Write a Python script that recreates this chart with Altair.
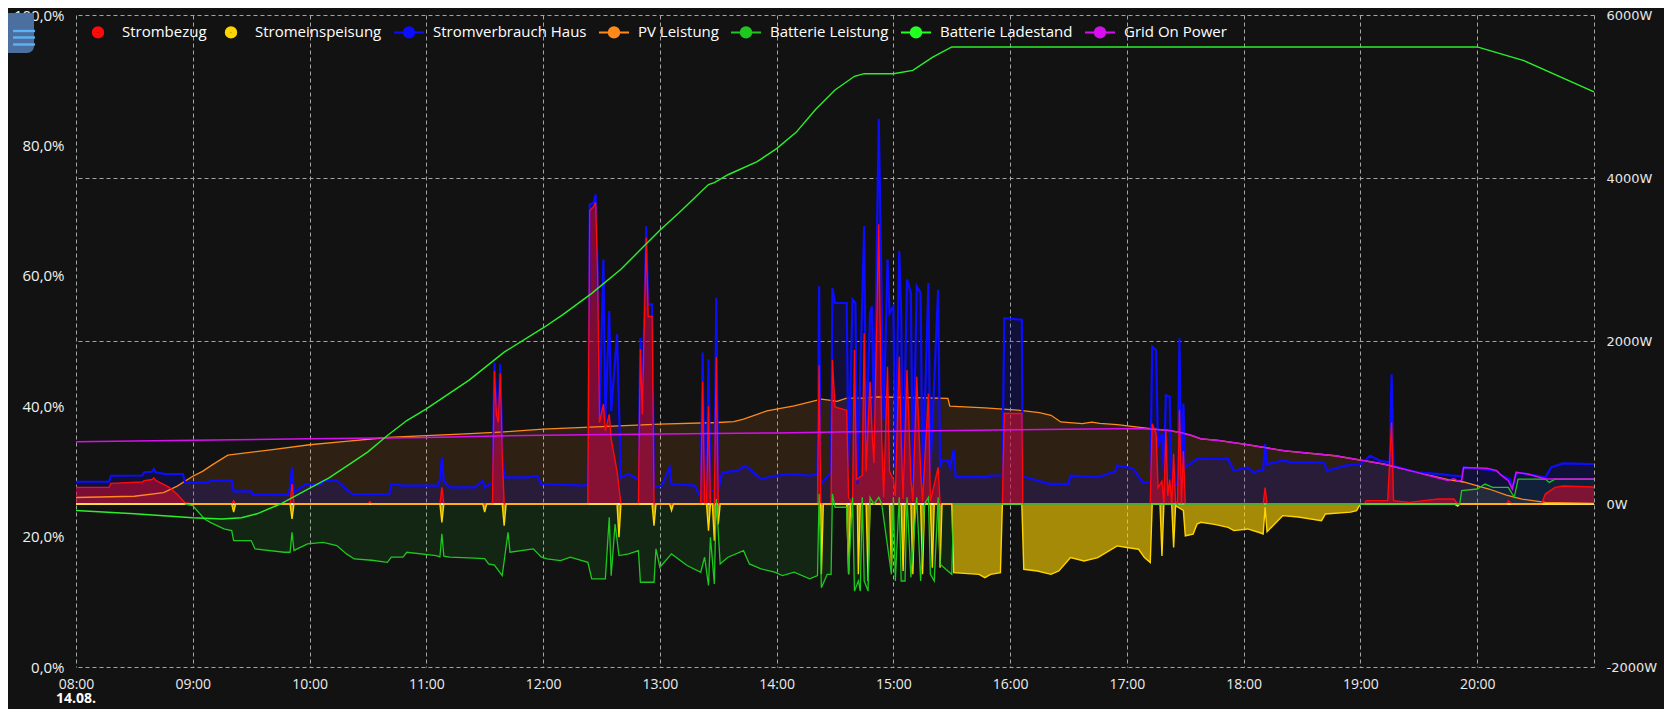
import altair as alt
import pandas as pd

DAY = "2024-08-14T"

SERIES = ["Strombezug", "Stromeinspeisung", "Stromverbrauch Haus", "PV Leistung",
          "Batterie Leistung", "Batterie Ladestand", "Grid On Power"]
COLORS = ["#ff0a0a", "#ffd500", "#0c0cff", "#ff8a1a", "#1ec81e", "#22ff22", "#d90ef0"]

# Stromverbrauch Haus (W)
HAUS = [("08:00",273),("08:17",273),("08:18",347),("08:34",350),("08:35",388),("08:39",395),("08:40",430),("08:41",390),
        ("08:46",367),("08:55",367),("08:56",265),("09:08",265),("09:09",286),("09:20",286),("09:21",155),("09:30",155),
        ("09:31",114),("09:49",114),("09:50",200),("09:51",450),("09:52",140),("09:58",245),("10:06",245),("10:07",286),
        ("10:14",286),("10:18",200),("10:22",122),("10:41",122),("10:42",245),("10:48",225),("11:06",225),("11:07",300),
        ("11:08",571),("11:09",280),("11:12",204),("11:25",204),("11:29",286),("11:30",204),("11:34",260),("11:35",1735),
        ("11:36",1200),("11:37",1000),("11:38",1715),("11:39",700),("11:40",327),("11:52",327),("11:57",347),("11:59",245),
        ("12:21",225),("12:23",250),("12:24",3675),("12:26",3695),("12:27",3797),("12:28",2900),("12:29",1060),("12:31",3001),
        ("12:32",1020),("12:34",2368),("12:35",1140),("12:38",2082),("12:40",327),("12:44",367),("12:49",300),("12:50",2041),
        ("12:51",1220),("12:53",3409),("12:54",2450),("12:56",2450),("12:57",204),("13:01",225),("13:05",449),("13:06",245),
        ("13:18",225),("13:20",122),("13:21",160),("13:22",1858),("13:23",163),("13:24",163),("13:25",1776),("13:26",163),
        ("13:28",163),("13:29",2532),("13:30",163),("13:32",388),("13:40",408),("13:44",470),("13:46",430),("13:52",306),
        ("13:59",347),("14:09",367),("14:17",347),("14:21",370),("14:21:50",2672),("14:22:40",247),("14:28",388),
        ("14:28:40",2650),("14:30",2466),("14:36",2466),("14:37",452),("14:39",2507),("14:40:30",2466),("14:41:30",247),
        ("14:45",3411),("14:46",700),("14:48",2342),("14:49",2425),("14:50",950),("14:52:30",4727),("14:54",2507),
        ("14:55",1028),("14:57",3000),("14:58",2342),("15:00",2425),("15:01",452),("15:03",3103),("15:04",2342),("15:05",247),
        ("15:07",2754),("15:09",2589),("15:10",247),("15:12",2672),("15:14",2589),("15:15",247),("15:18",2713),("15:19",400),
        ("15:23",2630),("15:24",452),("15:25",534),("15:28",534),("15:29",452),("15:31",658),("15:32",329),("15:49",329),
        ("15:50",350),("15:56",350),("15:57",2281),("16:06",2260),("16:06:30",340),("16:08",329),("16:20",247),("16:30",247),
        ("16:31",349),("16:45",329),("16:54",400),("16:55",473),("17:03",440),("17:08",267),("17:12",267),("17:13",1932),
        ("17:15",1890),("17:16",700),("17:18",863),("17:19",400),("17:20",1336),("17:22",1315),("17:23",247),("17:26",247),
        ("17:27",2034),("17:28",247),("17:29",1233),("17:30",450),("17:36",555),("17:52",551),("17:55",408),("18:02",449),
        ("18:05",388),("18:10",420),("18:11",735),("18:12",490),("18:20",531),("18:25",510),("18:41",510),("18:43",408),
        ("18:52",470),("19:00",490),("19:05",592),("19:10",531),("19:15",510),("19:16",1592),("19:17",470),("19:29",388),
        ("19:41",367),("19:48",347),("19:52",340),("19:53",449),("20:10",408),("20:12",360),("20:17",300),("20:18",184),
        ("20:20",388),("20:26",367),("20:35",327),("20:38",449),("20:44",498),("21:00",490)]

# Strombezug (W)
BEZUG = [("08:00",204),("08:17",204),("08:18",253),("08:34",270),("08:35",286),("08:39",300),("08:40",320),("08:41",290),
         ("08:48",204),("08:52",120),("08:56",15),("09:00",0),("09:20",0),("09:21",40),("09:22",0),("09:50",0),("09:51",245),
         ("09:52",0),("10:30",0),("10:31",30),("10:32",0),("11:07",0),("11:08",204),("11:09",0),("11:34",0),("11:35",1633),
         ("11:36",1100),("11:37",1000),("11:38",1600),("11:39",600),("11:40",0),("12:23",0),("12:24",3600),("12:26",3650),
         ("12:27",3700),("12:28",2800),("12:29",1000),("12:31",1225),("12:32",900),("12:34",1100),("12:35",800),("12:38",400),
         ("12:40",0),("12:49",0),("12:50",1900),("12:51",1100),("12:53",3266),("12:54",2300),("12:56",2300),("12:57",0),
         ("13:21",0),("13:22",1500),("13:23",0),("13:24",0),("13:25",1200),("13:26",0),("13:28",0),("13:29",1800),("13:30",0),
         ("14:21",0),("14:21:50",1700),("14:22:40",0),("14:28",0),("14:28:40",1767),("14:30",1190),("14:36",1150),("14:37",82),
         ("14:39",0),("14:40",1890),("14:41",300),("14:44",350),("14:45",2096),("14:46",400),("14:48",1500),("14:49",900),
         ("14:50",500),("14:52:30",3432),("14:54",800),("14:55",80),("14:57",1685),("14:58",400),("15:00",300),("15:01",100),
         ("15:03",1808),("15:04",800),("15:05",60),("15:07",1644),("15:09",300),("15:10",30),("15:12",1562),("15:14",400),
         ("15:15",30),("15:18",1356),("15:19",30),("15:23",452),("15:24",0),("15:56",0),("15:57",1110),("16:06",1110),
         ("16:06:30",0),("17:12",0),("17:13",986),("17:15",863),("17:16",200),("17:18",280),("17:19",0),("17:20",904),
         ("17:21",100),("17:22",300),("17:23",0),("17:24",616),("17:25",20),("17:26",0),("17:27",1151),("17:28",0),("17:29",650),
         ("17:30",0),("18:10",0),("18:11",200),("18:12",0),("19:02",0),("19:03",41),("19:14",41),("19:16",1000),("19:17",41),
         ("19:25",20),("19:40",61),("19:48",61),("19:50",0),("20:15",0),("20:16",40),("20:18",0),("20:33",0),("20:35",122),
         ("20:40",204),("20:44",220),("21:00",208)]

# Stromeinspeisung (W, negative)
EINSPEISUNG = [("08:00",0),("09:20",0),("09:21",-100),("09:22",0),("09:50",0),("09:51",-184),("09:52",0),("11:07",0),
               ("11:08",-225),("11:09",0),("11:29",0),("11:30",-100),("11:31",0),("11:39",0),("11:40",-265),("11:41",0),
               ("12:38",0),("12:39",-408),("12:40",0),("12:56",0),("12:57",-265),("12:58",0),("13:05",0),("13:06",-80),
               ("13:07",0),("13:24",0),("13:25",-327),("13:26",0),("13:27",0),("13:28",-449),("13:29",0),("13:30",-250),
               ("13:31",0),("14:22:40",0),("14:23",-863),("14:24",0),("14:36",0),("14:37",-863),("14:38",0),("14:41:30",0),
               ("14:42",-863),("14:43",0),("14:46",0),("14:47",-945),("14:48",0),("14:58",0),("14:59",-781),("15:00",0),
               ("15:04",0),("15:05",-822),("15:06",0),("15:09",0),("15:10",-863),("15:11",0),("15:14",0),("15:15",-863),
               ("15:16",0),("15:19",0),("15:20",-781),("15:21",0),("15:23",0),("15:24",-781),("15:25",0),("15:30",0),
               ("15:31",-843),("15:44",-863),("15:47",-904),("15:50",-863),("15:55",-843),("15:56",0),("16:06",0),
               ("16:07",-801),("16:14",-822),("16:21",-863),("16:25",-822),("16:31",-658),("16:38",-699),("16:45",-658),
               ("16:55",-514),("17:00",-534),("17:06",-555),("17:09",-658),("17:12",-719),("17:13",0),("17:17",0),
               ("17:18",-637),("17:19",0),("17:23",0),("17:24",-534),("17:25",-20),("17:29",-80),("17:30",-390),("17:34",-370),
               ("17:36",-247),("17:38",-225),("17:45",-250),("17:52",-286),("17:55",-327),("18:02",-306),("18:08",-350),
               ("18:10",-367),("18:11",-40),("18:12",-340),("18:20",-143),("18:28",-160),("18:40",-204),("18:42",-122),
               ("18:55",-100),("18:58",-82),("19:00",0),("19:48",0),("19:50",-25),("19:51",0),("21:00",0)]

# PV Leistung (W)
PV = [("08:00",80),("08:30",95),("08:45",140),("08:52",220),("09:00",340),("09:05",400),("09:10",480),("09:18",600),
      ("09:40",665),("10:00",727),("10:20",772),("10:40",816),("11:00",840),("11:20",860),("11:40",885),("12:00",919),
      ("12:30",950),("13:00",980),("13:30",1000),("13:38",1010),("13:43",1041),("13:50",1100),("13:55",1143),("14:09",1204),
      ("14:23",1286),("14:27",1275),("14:31",1260),("14:36",1300),("14:45",1300),("14:52",1315),("15:00",1310),("15:28",1295),
      ("15:29",1200),("15:47",1180),("16:04",1151),("16:15",1120),("16:21",1089),("16:26",1007),("16:37",986),("16:42",1005),
      ("16:46",990),("16:55",975),("17:12",925),("17:21",904),("17:27",880),("17:33",843),("17:38",800),("17:47",780),
      ("18:00",735),("18:21",653),("18:47",592),("19:00",539),("19:12",490),("19:29",388),("19:45",300),("19:53",270),
      ("20:06",184),("20:15",110),("20:23",61),("20:35",20),("21:00",8)]

# Batterie Leistung (W)
BATTERIE = [("08:56",0),("09:00",-20),("09:06",-184),("09:09",-225),("09:16",-306),("09:20",-327),("09:21",-449),("09:30",-449),
            ("09:32",-551),("09:47",-592),("09:50",-592),("09:51",-347),("09:52",-570),("09:59",-490),("10:07",-470),
            ("10:14",-510),("10:19",-612),("10:23",-674),("10:32",-690),("10:40",-715),("10:42",-653),("10:48",-653),
            ("10:50",-592),("11:05",-633),("11:07",-650),("11:08",-367),("11:09",-640),("11:12",-653),("11:22",-662),
            ("11:30",-670),("11:32",-735),("11:35",-750),("11:39",-878),("11:42",-347),("11:43",-592),("11:55",-551),
            ("11:59",-650),("12:02",-674),("12:09",-694),("12:14",-653),("12:23",-715),("12:25",-919),("12:32",-919),
            ("12:34",-163),("12:35",-880),("12:37",-245),("12:39",-633),("12:44",-612),("12:49",-572),("12:50",-960),
            ("12:57",-960),("12:58",-551),("13:00",-776),("13:06",-612),("13:14",-755),("13:21",-837),("13:23",-653),
            ("13:25",-1000),("13:26",-408),("13:28",-980),("13:29",61),("13:31",-735),("13:35",-653),("13:43",-572),
            ("13:46",-735),("13:52",-796),("13:59",-837),("14:03",-878),("14:09",-837),("14:17",-919),("14:21",-878),
            ("14:21:50",123),("14:23",-1027),("14:26",-863),("14:28",-863),("14:28:40",123),("14:30",-40),("14:36",-40),
            ("14:37",-863),("14:39",82),("14:40",-1069),("14:42",-945),("14:43",-1069),("14:44",82),("14:45",-945),
            ("14:47",-1069),("14:48",82),("14:50",0),("14:52:30",82),("14:54",0),("14:59",-863),("15:00",82),("15:01",-945),
            ("15:03",82),("15:04",-945),("15:06",-945),("15:07",82),("15:09",-900),("15:12",82),("15:14",-945),("15:16",0),
            ("15:18",82),("15:19",-863),("15:21",-945),("15:23",82),("15:24",-740),("15:28",-822),("15:30",-863),("15:31",0),
            ("19:51",0),("19:52",163),("20:00",184),("20:04",245),("20:08",204),("20:16",204),("20:19",82),("20:21",306),
            ("20:35",306),("20:37",265),("20:40",306),("21:00",306)]

# Grid On Power (W)
NETZ = [("08:00",763),("09:00",783),("10:00",800),("11:00",815),("12:00",845),("13:00",860),("14:00",872),("14:39",885),
        ("16:04",910),("17:06",925),("17:15",915),("17:21",904),("17:27",880),("17:33",843),("17:38",800),("17:47",780),
        ("18:00",735),("18:21",653),("18:47",592),("19:00",539),("19:12",490),("19:29",388),("19:40",320),("19:45",290),
        ("19:48",310),("19:50",280),("19:52",290),("19:53",449),("20:05",440),("20:10",408),("20:12",360),("20:16",286),
        ("20:18",184),("20:20",388),("20:26",367),("20:35",306),("21:00",306)]

# Batterie Ladestand (%)
LADESTAND = [("08:00",24.0),("08:30",23.5),("09:00",22.9),("09:15",22.7),("09:25",22.9),("09:33",23.5),("09:45",25.0),
             ("09:58",27.1),("10:10",29.0),("10:21",31.2),("10:30",33.0),("10:40",35.5),("10:50",37.8),("11:00",39.6),
             ("11:22",44.0),("11:40",48.3),("12:00",52.0),("12:10",54.0),("12:25",57.3),("12:40",61.0),("12:52",64.6),
             ("13:00",67.0),("13:10",69.7),("13:25",74.0),("13:28",74.3),("13:35",75.5),("13:50",77.5),("14:00",79.5),
             ("14:10",82.0),("14:20",85.5),("14:30",88.5),("14:40",90.6),("14:45",91.0),("15:00",91.0),("15:10",91.5),
             ("15:20",93.5),("15:30",95.1),("20:00",95.1),("20:24",93.0),("21:00",88.2)]

W_TICKS = [-2000, 0, 2000, 4000, 6000]
PCT_TICKS = [0, 20, 40, 60, 80, 100]
DATE_LABEL = "14.08."

PLOT_W, PLOT_H = 1518, 652


def frame(points, field="v"):
    rows = sorted(points)
    return pd.DataFrame({
        "t": [DAY + (p[0] if len(p[0]) > 5 else p[0] + ":00") for p in rows],
        field: [p[1] for p in rows],
    })


def dt(h):
    return alt.DateTime(year=2024, month=8, date=14, hours=h)


GRID = dict(grid=True, gridDash=[4, 3], gridColor="#a4a4a4", gridWidth=1, gridOpacity=1,
            domain=False, ticks=False, title=None)

x_axis = alt.Axis(values=[dt(h) for h in range(8, 22)],
                  labelExpr="hours(datum.value) == 21 ? '' : timeFormat(datum.value, '%H:%M')",
                  labelColor="#ececec", labelFont="Open Sans", labelFontSize=14, labelPadding=10,
                  labelFlush=False, labelOverlap=False, **GRID)
X = alt.X("t:T", scale=alt.Scale(domain=[dt(8), dt(21)]), axis=x_axis)

w_axis = alt.Axis(orient="right", values=W_TICKS, labelExpr="datum.value + 'W'",
                  labelColor="#e6e6e6", labelFont="DejaVu Sans", labelFontSize=13,
                  labelPadding=12, labelAlign="left", **GRID)
W_SCALE = alt.Scale(domain=[-2000, 6000], nice=False, zero=False)
Y = alt.Y("v:Q", scale=W_SCALE, axis=w_axis)
Y_AREA = alt.Y("v:Q", scale=W_SCALE, axis=w_axis, stack=None)

pct_axis = alt.Axis(orient="left", values=PCT_TICKS,
                    labelExpr="replace(format(datum.value, '.1f'), '.', ',') + '%'",
                    labelColor="#f0f0f0", labelFont="Open Sans", labelFontSize=15, labelPadding=12,
                    grid=False, domain=False, ticks=False, title=None)


def area(points, color, opacity):
    return alt.Chart(frame(points)).mark_area(color=color, fillOpacity=opacity).encode(x=X, y=Y_AREA)


def line(points, color, width):
    return alt.Chart(frame(points)).mark_line(color=color, strokeWidth=width).encode(x=X, y=Y)


zero = alt.Chart(pd.DataFrame({"v": [0]})).mark_rule(color="#f4f4f4", strokeWidth=1.8).encode(y=Y)

date_lbl = alt.Chart(pd.DataFrame({"t": [DAY + "08:00:00"], "s": [DATE_LABEL]})).mark_text(
    font="Open Sans", fontSize=14, fontWeight="bold", color="#ffffff", align="center", baseline="middle"
).encode(x=X, y=alt.value(PLOT_H + 32), text="s:N")

w_layers = alt.layer(
    area(PV, COLORS[3], 0.12),
    area(BATTERIE, COLORS[4], 0.11),
    area(BEZUG, COLORS[0], 0.55),
    area(HAUS, COLORS[2], 0.17),
    area(EINSPEISUNG, COLORS[1], 0.62),
    zero,
    line(PV, COLORS[3], 1.3),
    line(HAUS, COLORS[2], 2.2),
    line(BEZUG, COLORS[0], 1.4),
    line(EINSPEISUNG, COLORS[1], 1.4),
    line(BATTERIE, COLORS[4], 1.3),
    line(NETZ, COLORS[6], 1.5),
    date_lbl,
)

lade = alt.Chart(frame(LADESTAND, "p")).mark_line(color="#2bf02b", strokeWidth=1.4).encode(
    x=X, y=alt.Y("p:Q", scale=alt.Scale(domain=[0, 100], nice=False, zero=False), axis=pct_axis)
)


# legend symbols: filled dot (dense concentric rings) with or without a line through it
def ring(r):
    return f"M{-r},0A{r},{r},0,1,1,{r},0A{r},{r},0,1,1,{-r},0Z"


DOT = "".join(ring(r / 16) for r in (0.6, 1.6, 2.6, 3.6, 4.6, 5.2))
LINE_DOT = "M-0.94,0L0.94,0" + DOT
SHAPES = [DOT, DOT, LINE_DOT, LINE_DOT, LINE_DOT, LINE_DOT, LINE_DOT]

LEG = dict(orient="none", legendX=5, legendY=0, direction="horizontal", title=None,
           labelFont="Open Sans", labelFontSize=15, labelColor="#ffffff", labelOffset=7,
           labelLimit=300, columnPadding=7, symbolSize=1024, symbolStrokeWidth=2,
           symbolOpacity=1, padding=0)

legend_layer = alt.Chart(pd.DataFrame({"series": SERIES})).mark_point(opacity=0, filled=False).encode(
    color=alt.Color("series:N", scale=alt.Scale(domain=SERIES, range=COLORS), legend=alt.Legend(**LEG)),
    shape=alt.Shape("series:N", scale=alt.Scale(domain=SERIES, range=SHAPES), legend=alt.Legend(**LEG)),
)

one = pd.DataFrame({"k": [0]})
icon = alt.Chart(one).mark_rect(color="#4b6f9e", cornerRadiusBottomRight=7).encode(
    x=alt.value(-68), x2=alt.value(-42), y=alt.value(-2), y2=alt.value(38))
icon_lines = [
    alt.Chart(one).mark_rule(color="#5db0f5", strokeWidth=2.4).encode(
        x=alt.value(-63), x2=alt.value(-41), y=alt.value(yy))
    for yy in (16, 22.5, 29.5)
]

chart = alt.layer(w_layers, lade, legend_layer, icon, *icon_lines).resolve_scale(
    y="independent"
).properties(
    width=PLOT_W, height=PLOT_H,
    padding={"left": 68, "top": 7, "right": 70, "bottom": 42},
    autosize=alt.AutoSizeParams(type="none"),
    background="#121212",
).configure_view(stroke=None)

chart.save("out.html", embed_options={"renderer": "svg", "actions": False})
